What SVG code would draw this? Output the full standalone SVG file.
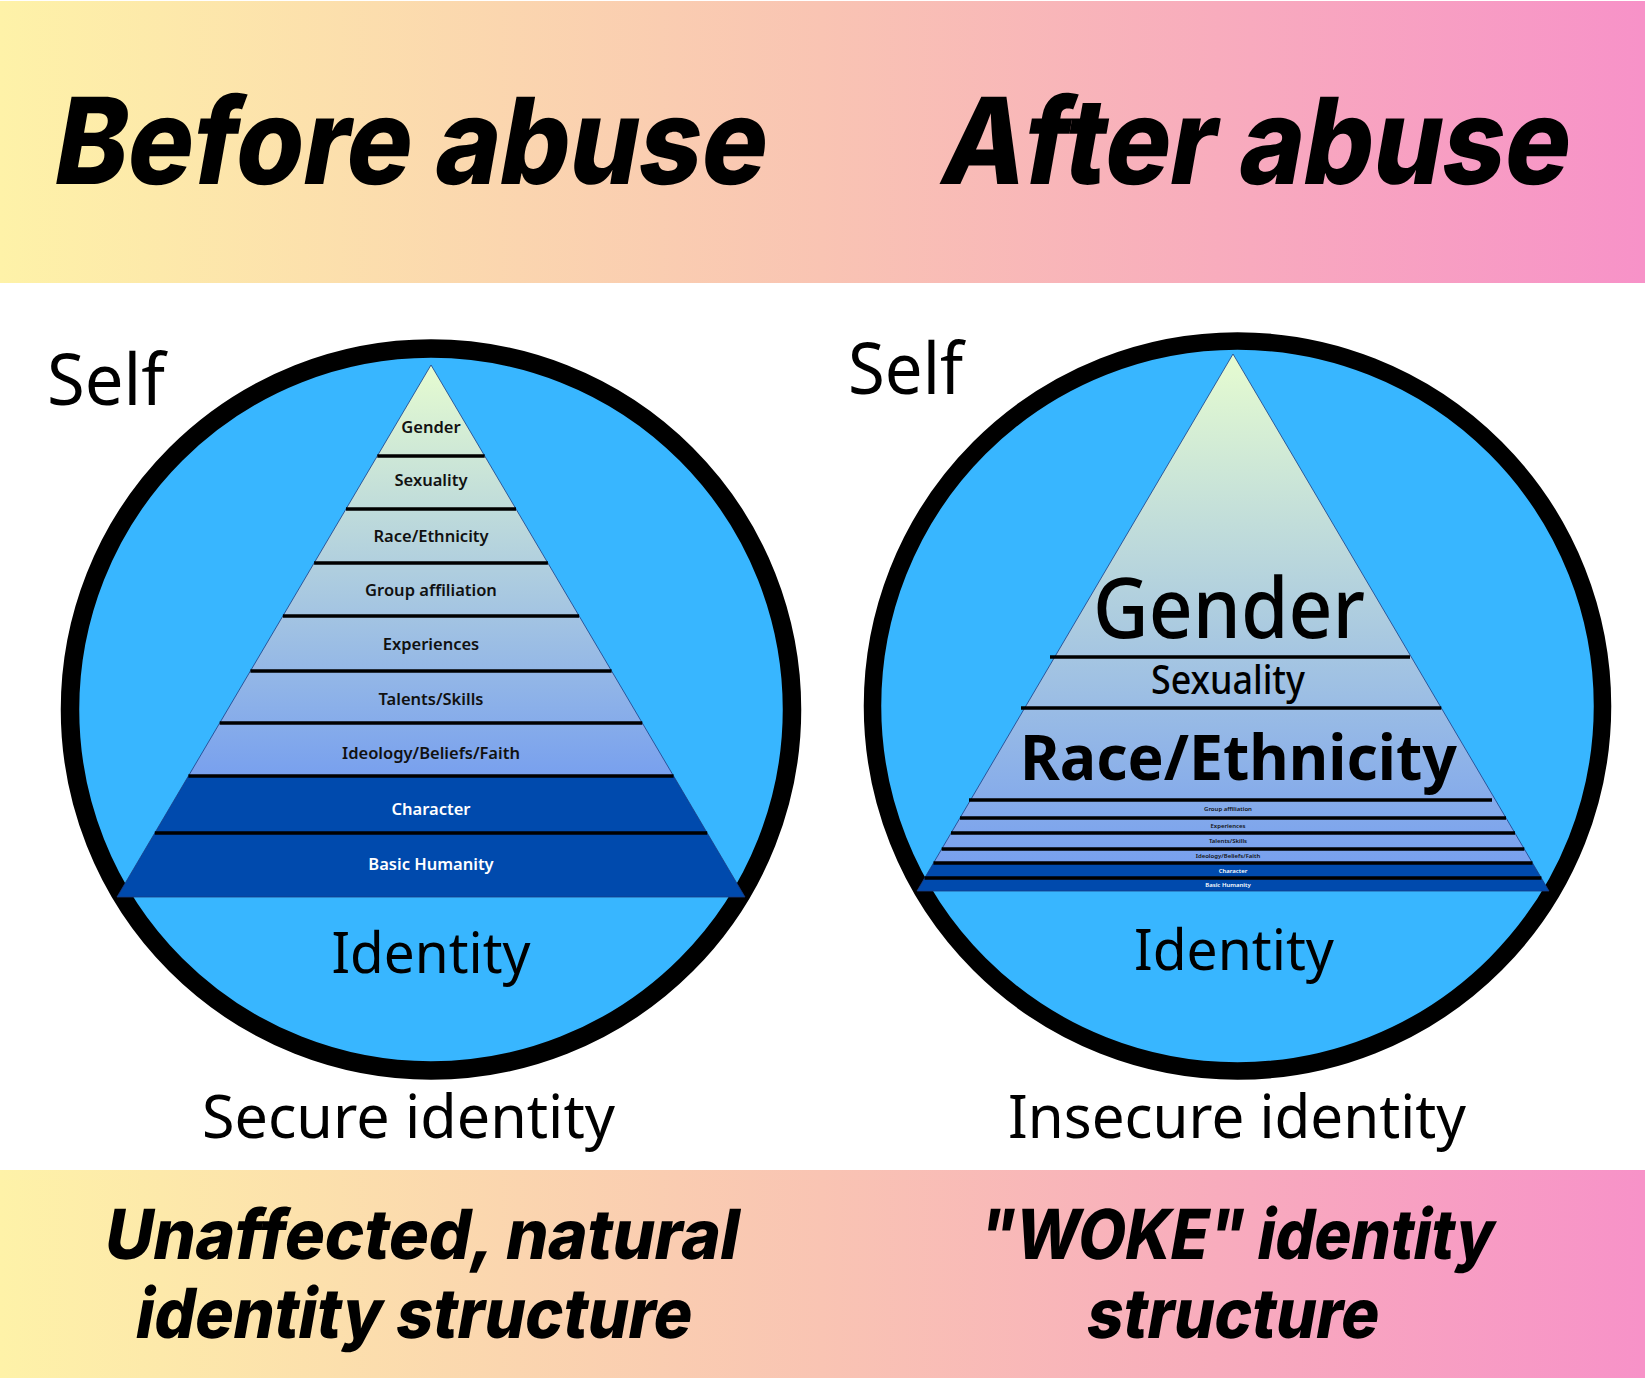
<svg xmlns="http://www.w3.org/2000/svg" width="1645" height="1379" viewBox="0 0 1645 1379">
<defs>
<linearGradient id="band" x1="0" y1="0" x2="1645" y2="0" gradientUnits="userSpaceOnUse">
<stop offset="0" stop-color="#FEF2A8"/>
<stop offset="0.5" stop-color="#F9C4B3"/>
<stop offset="1" stop-color="#F792C8"/>
</linearGradient>
<linearGradient id="pyrL" x1="0" y1="365" x2="0" y2="776" gradientUnits="userSpaceOnUse">
<stop offset="0" stop-color="#E6FCD0"/>
<stop offset="1" stop-color="#78A0EE"/>
</linearGradient>
<linearGradient id="pyrR" x1="0" y1="354" x2="0" y2="863" gradientUnits="userSpaceOnUse">
<stop offset="0" stop-color="#E6FCD0"/>
<stop offset="1" stop-color="#78A0EE"/>
</linearGradient>
<style>
.head{font-family:Inter,"Liberation Sans",sans-serif;font-weight:800;font-style:normal;fill:#000}
.sans{font-family:"Noto Sans","Open Sans","Liberation Sans",sans-serif;fill:#000}
.ring{fill:#38B6FF;stroke:#000}
.dark{fill:#004AAD}
.lbl{font-family:"Noto Sans","Open Sans","Liberation Sans",sans-serif;font-weight:600;font-size:16.5px;fill:#111;text-anchor:middle}
.sm{font-family:"Noto Sans","Open Sans","Liberation Sans",sans-serif;font-weight:600;font-size:6px;fill:#111;text-anchor:middle}
.wh{fill:#fff}
.sep{stroke:#000;stroke-width:3.6;fill:none}
.edge{fill:none;stroke:#1B3C84;stroke-width:0.8}
</style>
</defs>
<rect width="1645" height="1379" fill="#fff"/>

<g id="top-banner">
<rect x="0" y="1" width="1645" height="282" fill="url(#band)"/>
<text class="head" transform="translate(50,184) skewX(-10)" x="0" y="0" font-size="120" textLength="712" lengthAdjust="spacingAndGlyphs">Before abuse</text>
<text class="head" transform="translate(937,184) skewX(-10)" x="0" y="0" font-size="120" textLength="628" lengthAdjust="spacingAndGlyphs">After abuse</text>
</g>

<g id="bottom-banner">
<rect x="0" y="1170" width="1645" height="208" fill="url(#band)"/>
<text class="head" transform="translate(102,1259) skewX(-10)" x="0" y="0" font-size="69" textLength="634" lengthAdjust="spacingAndGlyphs">Unaffected, natural</text>
<text class="head" transform="translate(133,1338) skewX(-10)" x="0" y="0" font-size="69" textLength="556" lengthAdjust="spacingAndGlyphs">identity structure</text>
<text class="head" transform="translate(976,1259) skewX(-10)" x="0" y="0" font-size="69" textLength="515" lengthAdjust="spacingAndGlyphs">"WOKE" identity</text>
<text class="head" transform="translate(1084,1338) skewX(-10)" x="0" y="0" font-size="69" textLength="292" lengthAdjust="spacingAndGlyphs">structure</text>
</g>

<!-- LEFT PANEL -->
<g id="left-self">
<circle class="ring" cx="431" cy="709.5" r="361" stroke-width="18.5"/>
<text class="sans" x="47" y="405" font-size="72" textLength="118" lengthAdjust="spacingAndGlyphs">Self</text>
<text class="sans" x="431" y="973" font-size="57" text-anchor="middle" textLength="199" lengthAdjust="spacingAndGlyphs">Identity</text>
</g>
<g id="left-pyramid">
<g id="L-gender"><polygon points="431,365 484.7,456 377.3,456" fill="url(#pyrL)"/><text class="lbl" x="431" y="433">Gender</text></g>
<g id="L-sexuality"><polygon points="377.3,456 484.7,456 516,509 346,509" fill="url(#pyrL)"/><text class="lbl" x="431" y="486">Sexuality</text></g>
<g id="L-race"><polygon points="346,509 516,509 547.9,563 314.1,563" fill="url(#pyrL)"/><text class="lbl" x="431" y="541.5">Race/Ethnicity</text></g>
<g id="L-group"><polygon points="314.1,563 547.9,563 579.1,616 282.9,616" fill="url(#pyrL)"/><text class="lbl" x="431" y="596">Group affiliation</text></g>
<g id="L-experiences"><polygon points="282.9,616 579.1,616 611.6,671 250.4,671" fill="url(#pyrL)"/><text class="lbl" x="431" y="650">Experiences</text></g>
<g id="L-talents"><polygon points="250.4,671 611.6,671 642.3,723 219.7,723" fill="url(#pyrL)"/><text class="lbl" x="431" y="705">Talents/Skills</text></g>
<g id="L-ideology"><polygon points="219.7,723 642.3,723 673.6,776 188.4,776" fill="url(#pyrL)"/><text class="lbl" x="431" y="759">Ideology/Beliefs/Faith</text></g>
<g id="L-character"><polygon class="dark" points="188.4,776 673.6,776 707.2,833 154.8,833"/><text class="lbl wh" x="431" y="815">Character</text></g>
<g id="L-humanity"><polygon class="dark" points="154.8,833 707.2,833 745,897 117,897"/><text class="lbl wh" x="431" y="870">Basic Humanity</text></g>
<polygon class="edge" points="431,365 745,897 117,897"/>
<g id="L-separators">
<line class="sep" x1="377.3" y1="456" x2="484.7" y2="456"/>
<line class="sep" x1="346" y1="509" x2="516" y2="509"/>
<line class="sep" x1="314.1" y1="563" x2="547.9" y2="563"/>
<line class="sep" x1="282.9" y1="616" x2="579.1" y2="616"/>
<line class="sep" x1="250.4" y1="671" x2="611.6" y2="671"/>
<line class="sep" x1="219.7" y1="723" x2="642.3" y2="723"/>
<line class="sep" x1="188.4" y1="776" x2="673.6" y2="776"/>
<line class="sep" x1="154.8" y1="833" x2="707.2" y2="833"/>
</g>
</g>
<g id="left-caption">
<text class="sans" x="408.5" y="1138" font-size="60" text-anchor="middle" textLength="413" lengthAdjust="spacingAndGlyphs">Secure identity</text>
</g>

<!-- RIGHT PANEL -->
<g id="right-self">
<circle class="ring" cx="1237.5" cy="706" r="365" stroke-width="17.5"/>
<text class="sans" x="848" y="394" font-size="72" textLength="115" lengthAdjust="spacingAndGlyphs">Self</text>
<text class="sans" x="1234" y="970" font-size="57" text-anchor="middle" textLength="200" lengthAdjust="spacingAndGlyphs">Identity</text>
</g>
<g id="right-pyramid">
<g id="R-gender"><polygon points="1233,354 1411.3,657 1054.7,657" fill="url(#pyrR)"/><text class="sans" x="1229" y="638" font-size="84" font-weight="500" text-anchor="middle" textLength="272" lengthAdjust="spacingAndGlyphs">Gender</text></g>
<g id="R-sexuality"><polygon points="1054.7,657 1411.3,657 1441.3,708 1024.7,708" fill="url(#pyrR)"/><text class="sans" x="1228" y="694" font-size="39" font-weight="500" text-anchor="middle" textLength="154" lengthAdjust="spacingAndGlyphs">Sexuality</text></g>
<g id="R-race"><polygon points="1024.7,708 1441.3,708 1495.5,800 970.5,800" fill="url(#pyrR)"/><text class="sans" x="1238.5" y="780" font-size="63" font-weight="700" text-anchor="middle" textLength="437" lengthAdjust="spacingAndGlyphs">Race/Ethnicity</text></g>
<g id="R-group"><polygon points="970.5,800 1495.5,800 1506,818 960,818" fill="url(#pyrR)"/><text class="sm" x="1228" y="811">Group affiliation</text></g>
<g id="R-experiences"><polygon points="960,818 1506,818 1515,833 951,833" fill="url(#pyrR)"/><text class="sm" x="1228" y="827.5">Experiences</text></g>
<g id="R-talents"><polygon points="951,833 1515,833 1524.3,849 941.7,849" fill="url(#pyrR)"/><text class="sm" x="1228" y="843">Talents/Skills</text></g>
<g id="R-ideology"><polygon points="941.7,849 1524.3,849 1532.5,863 933.5,863" fill="url(#pyrR)"/><text class="sm" x="1228" y="858">Ideology/Beliefs/Faith</text></g>
<g id="R-character"><polygon class="dark" points="933.5,863 1532.5,863 1541.4,878 924.6,878"/><text class="sm wh" x="1233" y="872.5">Character</text></g>
<g id="R-humanity"><polygon class="dark" points="924.6,878 1541.4,878 1549,891 917,891"/><text class="sm wh" x="1228" y="887">Basic Humanity</text></g>
<polygon class="edge" points="1233,354 1549,891 917,891"/>
<g id="R-separators">
<line class="sep" x1="1050" y1="657" x2="1410" y2="657"/>
<line class="sep" x1="1021" y1="708" x2="1441.3" y2="708"/>
<line class="sep" x1="969" y1="800" x2="1492" y2="800"/>
<line class="sep" x1="960" y1="818" x2="1506" y2="818"/>
<line class="sep" x1="951" y1="833" x2="1515" y2="833"/>
<line class="sep" x1="941.7" y1="849" x2="1524.3" y2="849"/>
<line class="sep" x1="933.5" y1="863" x2="1532.5" y2="863"/>
<line class="sep" x1="924.6" y1="878" x2="1541.4" y2="878"/>
</g>
</g>
<g id="right-caption">
<text class="sans" x="1237" y="1138" font-size="60" text-anchor="middle" textLength="458" lengthAdjust="spacingAndGlyphs">Insecure identity</text>
</g>
</svg>
